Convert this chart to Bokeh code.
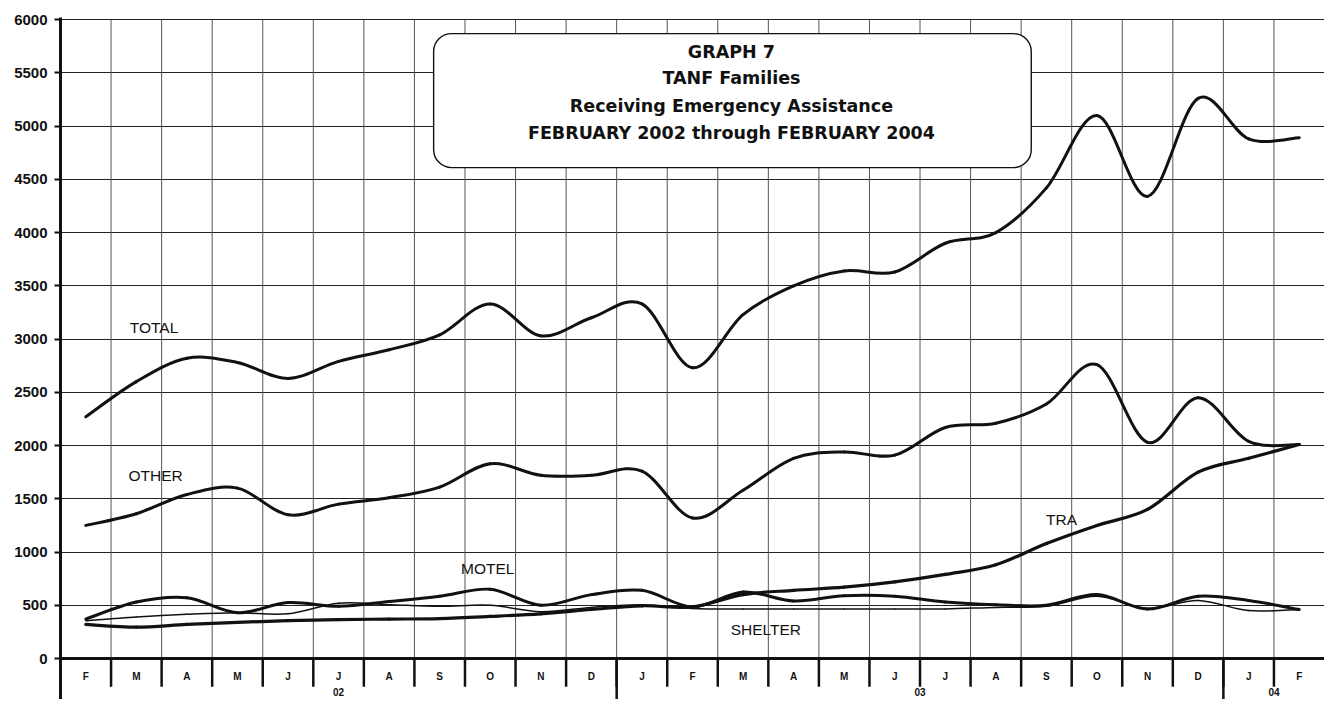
from bokeh.plotting import figure
from bokeh.models import Range1d, FixedTicker, BoxAnnotation, Label, ColumnDataSource
from bokeh.core.properties import value
from bokeh.embed import file_html
from bokeh.resources import INLINE

# ---------------- data ----------------
months = ["F", "M", "A", "M", "J", "J", "A", "S", "O", "N", "D",
          "J", "F", "M", "A", "M", "J", "J", "A", "S", "O", "N", "D",
          "J", "F"]
year_labels = ["02", "03", "04"]
year_spans = [11, 12, 2]          # number of months in each year group

total = [2270, 2600, 2820, 2780, 2630, 2790, 2900, 3040, 3330, 3030, 3200,
         3330, 2730, 3230, 3500, 3640, 3630, 3900, 4000, 4420, 5100, 4340, 5260,
         4880, 4890]
other = [1250, 1360, 1540, 1600, 1350, 1450, 1510, 1610, 1830, 1720, 1720,
         1760, 1320, 1580, 1880, 1940, 1910, 2170, 2210, 2390, 2760, 2030, 2450,
         2040, 2010]
tra = [320, 295, 320, 340, 355, 365, 370, 375, 395, 420, 460,
       495, 485, 600, 640, 670, 720, 790, 880, 1080, 1250, 1400, 1750,
       1880, 2010]
motel = [370, 530, 570, 430, 525, 490, 535, 585, 650, 500, 600,
         640, 485, 625, 540, 590, 585, 530, 505, 500, 600, 465, 585,
         545, 460]
shelter = [355, 390, 415, 430, 420, 520, 505, 490, 500, 440, 480,
           505, 470, 465, 465, 465, 465, 465, 480, 490, 585, 470, 545,
           450, 460]

y_ticks = list(range(0, 6001, 500))

# ---------------- figure ----------------
n = len(months)
xc = [i + 0.5 for i in range(n)]

Y_BOTTOM = -385
p = figure(width=1324, height=699, output_backend="svg", toolbar_location=None,
           x_range=Range1d(0, n), y_range=Range1d(Y_BOTTOM, 6020),
           x_axis_location=None, min_border_left=60, min_border_right=0,
           min_border_top=17, min_border_bottom=0)
p.outline_line_color = None
p.background_fill_color = "white"
p.border_fill_color = "white"
p.xgrid.visible = False

p.yaxis.ticker = FixedTicker(ticks=y_ticks)
p.yaxis.minor_tick_line_color = None
p.yaxis.axis_line_width = 3
p.yaxis.axis_line_color = "#111111"
p.yaxis.major_tick_line_width = 2
p.yaxis.major_tick_line_color = "#111111"
p.yaxis.major_tick_in = 0
p.yaxis.major_tick_out = 6
p.yaxis.major_label_standoff = 7
p.yaxis.major_label_text_font = "Liberation Sans"
p.yaxis.major_label_text_font_style = "bold"
p.yaxis.major_label_text_font_size = "15px"
p.yaxis.major_label_text_color = "#111111"

p.ygrid.ticker = FixedTicker(ticks=y_ticks[1:])
p.ygrid.grid_line_color = "#222222"
p.ygrid.grid_line_width = 1.2

# vertical grid lines at month boundaries
bounds = list(range(1, n))
p.segment(x0=bounds, y0=[0] * len(bounds), x1=bounds, y1=[6000] * len(bounds),
          line_color="#555555", line_width=1)

# bottom axis: line, month tick marks, year separators
p.segment(x0=[0], y0=[0], x1=[n], y1=[0], line_color="#111111", line_width=3)
p.segment(x0=bounds, y0=[0] * len(bounds), x1=bounds, y1=[-265] * len(bounds),
          line_color="#111111", line_width=2.5)
seps = []
acc = 0
for s in year_spans[:-1]:
    acc += s
    seps.append(acc)
p.segment(x0=seps, y0=[0] * len(seps), x1=seps, y1=[Y_BOTTOM] * len(seps),
          line_color="#111111", line_width=2.5)

p.text(x=xc, y=[-165] * n, text=months, text_align="center",
       text_baseline="middle", text_font=value("Liberation Sans"),
       text_font_style="bold", text_font_size="10px", text_color="#111111")
ycent = []
acc = 0
for s in year_spans:
    ycent.append(acc + s / 2)
    acc += s
p.text(x=ycent, y=[-318] * len(ycent), text=year_labels, text_align="center",
       text_baseline="middle", text_font=value("Liberation Sans"),
       text_font_style="bold", text_font_size="10px", text_color="#111111")


# smooth curves through the data points (Catmull-Rom as cubic Bezier)
def smooth(xs, ys):
    m = len(xs)
    d = dict(x0=[], y0=[], x1=[], y1=[], cx0=[], cy0=[], cx1=[], cy1=[])
    for i in range(m - 1):
        a = i - 1 if i > 0 else i
        b = i + 2 if i + 2 < m else i + 1
        d["x0"].append(xs[i]); d["y0"].append(ys[i])
        d["x1"].append(xs[i + 1]); d["y1"].append(ys[i + 1])
        d["cx0"].append(xs[i] + (xs[i + 1] - xs[a]) / 6)
        d["cy0"].append(ys[i] + (ys[i + 1] - ys[a]) / 6)
        d["cx1"].append(xs[i + 1] - (xs[b] - xs[i]) / 6)
        d["cy1"].append(ys[i + 1] - (ys[b] - ys[i]) / 6)
    return ColumnDataSource(d)


for series, w in [(total, 3), (other, 3), (tra, 3.2), (motel, 3), (shelter, 1.5)]:
    p.bezier(x0="x0", y0="y0", x1="x1", y1="y1", cx0="cx0", cy0="cy0",
             cx1="cx1", cy1="cy1", source=smooth(xc, series),
             line_color="#111111", line_width=w, line_cap="round")

# series labels
p.text(x=[1.85, 1.88, 8.45, 13.95, 19.8], y=[3108, 1722, 842, 271, 1301],
       text=["TOTAL", "OTHER", "MOTEL", "SHELTER", "TRA"], text_align="center",
       text_baseline="middle", text_font=value("Liberation Sans"),
       text_font_size="15.5px", text_color="#111111")

# title box
box = BoxAnnotation(left=7.38, right=19.2, top=5869, bottom=4610,
                    fill_color="white", fill_alpha=1.0, line_color="#111111",
                    line_alpha=1.0, line_width=1.4, border_radius=18,
                    level="annotation")
p.add_layout(box)
title_lines = ["GRAPH 7", "TANF Families", "Receiving Emergency Assistance",
               "FEBRUARY 2002 through FEBRUARY 2004"]
title_y = [5694, 5448, 5186, 4933]
for t, ty in zip(title_lines, title_y):
    p.add_layout(Label(x=13.27, y=ty, text=t, text_align="center",
                       text_baseline="middle", text_font="DejaVu Sans",
                       text_font_style="bold", text_font_size="17.5px",
                       text_color="#111111"))

open("out.html", "w").write(file_html(p, INLINE))
